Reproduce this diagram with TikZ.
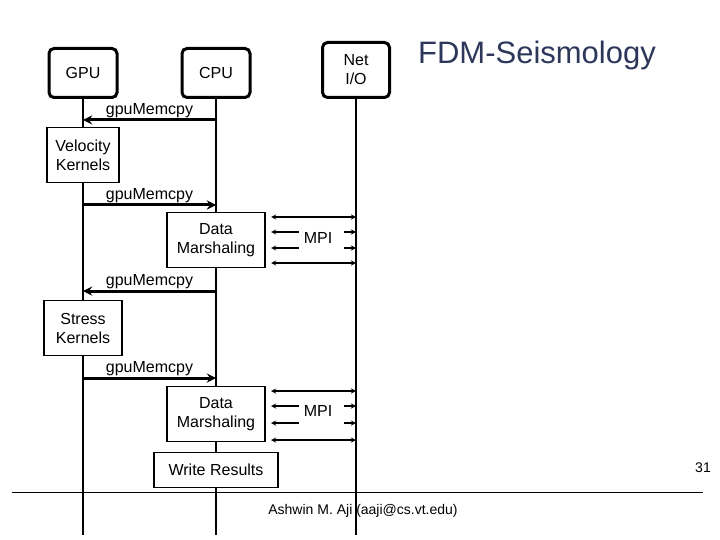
\documentclass[tikz,border=0pt]{standalone}
\usepackage{fontspec}
\setmainfont{Liberation Sans}
\usetikzlibrary{arrows,positioning}
\definecolor{titleblue}{RGB}{45,55,90}
\tikzstyle{head} = [draw, rounded corners=5pt, line width=3pt, align=center, font=\fontsize{16}{19}\selectfont]
\tikzstyle{task} = [draw, line width=1.5pt, fill=white, align=center, font=\fontsize{16}{19}\selectfont]
\tikzstyle{msg} = [line width=3pt,->,>=stealth]
\tikzstyle{mpi} = [line width=1.3pt,<->,>=stealth]
\tikzstyle{lbl} = [font=\fontsize{16}{18}\selectfont, inner sep=1pt]
\tikzset{>=stealth}
\begin{document}
\begin{tikzpicture}[x=1pt,y=-1pt]
            \useasboundingbox (0,0) rectangle (720,540);
            % lifelines
            \node[head, minimum width=68, minimum height=49] (gpu) at (83,73) {GPU};
            \node[head, minimum width=68, minimum height=49] (cpu) at (216,73) {CPU};
            \node[head, minimum width=67, minimum height=55] (net) at (356,70) {Net\\I/O};
            \coordinate (gpuend) at (83,535);
            \coordinate (cpuend) at (216,535);
            \coordinate (netend) at (356,535);
            \draw[line width=1.8pt] (gpu) -- (gpuend);
            \draw[line width=1.8pt] (cpu) -- (cpuend);
            \draw[line width=1.8pt] (net) -- (netend);
            \node[text=titleblue, font=\fontsize{31}{34}\selectfont] (title) at (537,55) {FDM-Seismology};
            % velocity phase
            \coordinate (c1) at (216,120); \coordinate (g1) at (83,120);
            \draw[msg] (c1) -- (g1) node[lbl, above, midway] {gpuMemcpy};
            \node[task, minimum width=72, minimum height=55] (vel) at (83,155) {Velocity\\Kernels};
            \coordinate (g2) at (83,205); \coordinate (c2) at (216,205);
            \draw[msg] (g2) -- (c2) node[lbl, above, midway] {gpuMemcpy};
            \node[task, minimum width=98, minimum height=55] (dm1) at (216,240) {Data\\Marshaling};
            \node[lbl] (mpi1) at (318,238) {MPI};
            \foreach \y in {217,263} {
                \coordinate (a) at (271,\y); \coordinate (b) at (356,\y);
                \draw[mpi] (a) -- (b);
            }
            \foreach \y in {232,248} {
                \coordinate (a) at (271,\y); \coordinate (b) at (356,\y);
                \draw[line width=1.3pt,<-] (a) -- ++(28,0);
                \draw[line width=1.3pt,->] (b) ++(-12,0) -- (b);
            }
            % stress phase
            \coordinate (c3) at (216,291); \coordinate (g3) at (83,291);
            \draw[msg] (c3) -- (g3) node[lbl, above, midway] {gpuMemcpy};
            \node[task, minimum width=78, minimum height=55] (str) at (83,328) {Stress\\Kernels};
            \coordinate (g4) at (83,378); \coordinate (c4) at (216,378);
            \draw[msg] (g4) -- (c4) node[lbl, above, midway] {gpuMemcpy};
            \node[task, minimum width=98, minimum height=55] (dm2) at (216,414) {Data\\Marshaling};
            \node[lbl] (mpi2) at (318,411) {MPI};
            \foreach \y in {391,440} {
                \coordinate (a) at (271,\y); \coordinate (b) at (356,\y);
                \draw[mpi] (a) -- (b);
            }
            \foreach \y in {406,423} {
                \coordinate (a) at (271,\y); \coordinate (b) at (356,\y);
                \draw[line width=1.3pt,<-] (a) -- ++(28,0);
                \draw[line width=1.3pt,->] (b) ++(-12,0) -- (b);
            }
            \node[task, minimum width=124, minimum height=35] (wr) at (216,470) {Write Results};
            % footer
            \coordinate (fl) at (12,492); \coordinate (fr) at (703,492);
            \draw[line width=0.8pt] (fl) -- (fr);
            \node[font=\fontsize{14}{16}\selectfont] (page) at (703,468) {31};
            \node[font=\fontsize{14}{16}\selectfont] (auth) at (363,511) {Ashwin M. Aji (aaji@cs.vt.edu)};
        \end{tikzpicture}
\end{document}
